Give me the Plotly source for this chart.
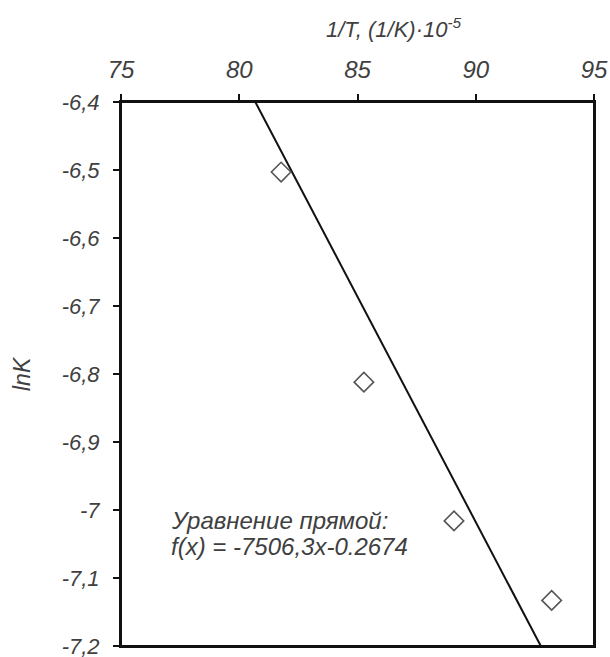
import plotly.graph_objects as go

# Data
inv_T = [81.77, 85.27, 89.08, 93.21]          # 1/T, (1/K)*10^-5
ln_K = [-6.503, -6.812, -7.016, -7.133]
trend_x = [80.68, 92.75]
trend_y = [-6.4, -7.2]

x_ticks = [75, 80, 85, 90, 95]
x_ticktext = ["75", "80", "85", "90", "95"]
y_ticks = [-6.4, -6.5, -6.6, -6.7, -6.8, -6.9, -7.0, -7.1, -7.2]
y_ticktext = ["-6,4", "-6,5", "-6,6", "-6,7", "-6,8", "-6,9", "-7", "-7,1", "-7,2"]

FONT = "Liberation Sans, Arial, sans-serif"
TXT = "#404040"

W, H = 610, 657
L, T = 121, 102
R = W - 594
B = H - 646
PW, PH = W - L - R, H - T - B


def px(xs):
    return (xs - L) / PW


def py(ys):
    return (H - B - ys) / PH


fig = go.Figure()
fig.add_trace(go.Scatter(x=trend_x, y=trend_y, mode="lines",
                         line=dict(color="#111111", width=2), showlegend=False,
                         hoverinfo="skip"))
fig.add_trace(go.Scatter(x=inv_T, y=ln_K, mode="markers",
                         marker=dict(symbol="diamond-open", size=15,
                                     color="#555555", line=dict(width=1.6, color="#555555")),
                         showlegend=False))

ital = dict(family=FONT, color=TXT, style="italic")

fig.add_annotation(x=px(169), y=py(520), xref="paper", yref="paper",
                   xanchor="left", yanchor="middle", showarrow=False,
                   text="Уравнение прямой:", font=dict(ital, size=24))
fig.add_annotation(x=px(169), y=py(546), xref="paper", yref="paper",
                   xanchor="left", yanchor="middle", showarrow=False,
                   text="f(x) = -7506,3x-0.2674", font=dict(ital, size=24))
fig.add_annotation(x=px(394), y=py(28), xref="paper", yref="paper",
                   xanchor="center", yanchor="middle", showarrow=False,
                   text="1/T, (1/K)·10<sup>-5</sup>", font=dict(ital, size=22))
fig.add_annotation(x=px(22), y=py(374), xref="paper", yref="paper",
                   xanchor="center", yanchor="middle", showarrow=False, textangle=-90,
                   text="lnK", font=dict(ital, size=23))

# plot frame (box around the plot area)
fig.add_shape(type="rect", xref="paper", yref="paper", x0=0, x1=1, y0=0, y1=1,
              line=dict(color="#111111", width=2), layer="above")

fig.update_layout(
    width=W, height=H,
    margin=dict(l=L, r=R, t=T, b=B),
    paper_bgcolor="white", plot_bgcolor="white",
    xaxis=dict(range=[75, 95], side="top", tickvals=x_ticks, ticktext=x_ticktext,
               ticks="outside", ticklen=6, tickwidth=1.5, tickcolor="#111111",
               showline=True, linecolor="#111111", linewidth=2, mirror=True,
               showgrid=False, zeroline=False, automargin=False, ticklabelstandoff=6,
               ticklabeloverflow="allow",
               tickfont=dict(ital, size=24)),
    yaxis=dict(range=[-7.2, -6.4], tickvals=y_ticks, ticktext=y_ticktext,
               ticks="outside", ticklen=6, tickwidth=1.5, tickcolor="#111111",
               showline=True, linecolor="#111111", linewidth=2, mirror=True,
               showgrid=False, zeroline=False, automargin=False, ticklabelstandoff=9,
               ticklabeloverflow="allow",
               tickfont=dict(ital, size=22)),
)

fig.write_html("out.html", config={"displayModeBar": False},
               post_script="document.body.style.margin='0';"
                           "document.documentElement.style.overflow='hidden';"
                           "document.body.style.overflow='hidden';")
